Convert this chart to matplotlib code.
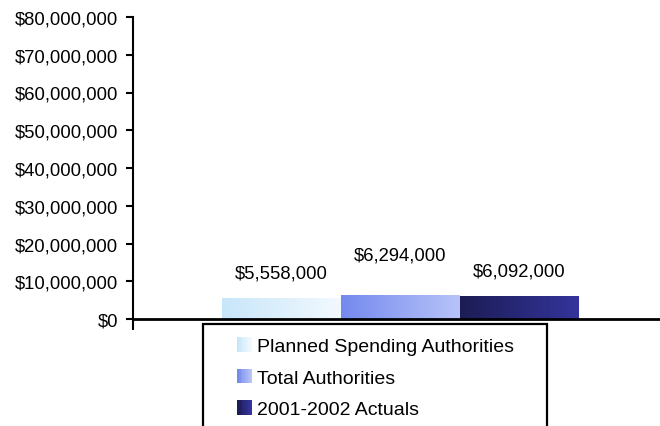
import numpy as np
import matplotlib
matplotlib.use('Agg')
import matplotlib.pyplot as plt
from matplotlib.legend_handler import HandlerBase
from matplotlib.patches import Rectangle
from matplotlib.colors import LinearSegmentedColormap
from matplotlib.ticker import FuncFormatter

plt.rcParams['font.family'] = ['Liberation Sans', 'DejaVu Sans']

# data
series = ['Planned Spending Authorities', 'Total Authorities', '2001-2002 Actuals']
values = [5558000, 6294000, 6092000]
value_labels = ['$5,558,000', '$6,294,000', '$6,092,000']
yticks = [0, 10000000, 20000000, 30000000, 40000000, 50000000, 60000000, 70000000, 80000000]

# gradient colours (left -> right) for each bar
grads = [('#c8e6fa', '#f2f9fe'), ('#7489ee', '#b8c3f8'), ('#1c1c55', '#34349c')]
label_offsets = [12, 23, 12]  # offsets of the value labels above bars (points)

fig = plt.figure(figsize=(6.6, 4.27), dpi=100)
ax = fig.add_axes([132.7 / 660, 1 - 320 / 427, 1 - 132.7 / 660, 302 / 427])

ppu = 119.0
x0 = -0.5 - (222 - 132.7) / ppu
x1 = x0 + (660 - 132.7) / ppu

xs = np.arange(len(values))
bars = ax.bar(xs, values, width=1.0, color='none', edgecolor='none', zorder=2)
grad = np.linspace(0, 1, 256).reshape(1, -1)
for b, (c0, c1) in zip(bars, grads):
    cmap = LinearSegmentedColormap.from_list('g', [c0, c1])
    bx, by = b.get_x(), b.get_y()
    im = ax.imshow(grad, cmap=cmap, aspect='auto', zorder=2,
                   extent=(bx, bx + b.get_width(), by, by + b.get_height()))
    im.set_clip_path(b)

for x, v, lab, off in zip(xs, values, value_labels, label_offsets):
    ax.annotate(lab, (x, v), xytext=(0, off), textcoords='offset points',
                ha='center', va='bottom', fontsize=13.3, color='black')

ax.set_xlim(x0, x1)
ax.set_ylim(0, 80000000)

ax.set_yticks(yticks)
ax.yaxis.set_major_formatter(FuncFormatter(lambda v, p: '${:,.0f}'.format(v)))
ax.tick_params(axis='y', direction='out', length=5, width=1.5, labelsize=13.3, pad=5.5)
ax.set_xticks([x0])
ax.set_xticklabels([])
ax.tick_params(axis='x', direction='out', length=8, width=1.5)
for s in ['top', 'right']:
    ax.spines[s].set_visible(False)
ax.spines['left'].set_linewidth(1.5)
ax.spines['bottom'].set_linewidth(2)


class GradHandler(HandlerBase):
    def __init__(self, c0, c1):
        super().__init__()
        self.c0, self.c1 = c0, c1

    def create_artists(self, legend, orig_handle, xdescent, ydescent,
                       width, height, fontsize, trans):
        size = 10.5
        left = width - size
        bottom = (height - size) / 2 - ydescent
        cmap = LinearSegmentedColormap.from_list('h', [self.c0, self.c1])
        n = 8
        arts = []
        for i in range(n):
            r = Rectangle((left + i * size / n, bottom), size / n + 0.2, size,
                          facecolor=cmap(i / (n - 1)), edgecolor='none', transform=trans)
            arts.append(r)
        return arts


handles = [Rectangle((0, 0), 1, 1) for _ in series]
hmap = {h: GradHandler(c0, c1) for h, (c0, c1) in zip(handles, grads)}
leg = fig.legend(handles, series, handler_map=hmap, loc='upper left',
                 bbox_to_anchor=(203 / 660, 1 - 325 / 427, 344 / 660, 0), mode='expand',
                 fontsize=14, frameon=True, fancybox=False, edgecolor='black',
                 handlelength=1.8, handletextpad=0.3, labelspacing=0.72, borderpad=0.7,
                 borderaxespad=0)
leg.get_frame().set_linewidth(1.6)
leg.get_frame().set_alpha(1)

fig.savefig('out.png', dpi=100)
